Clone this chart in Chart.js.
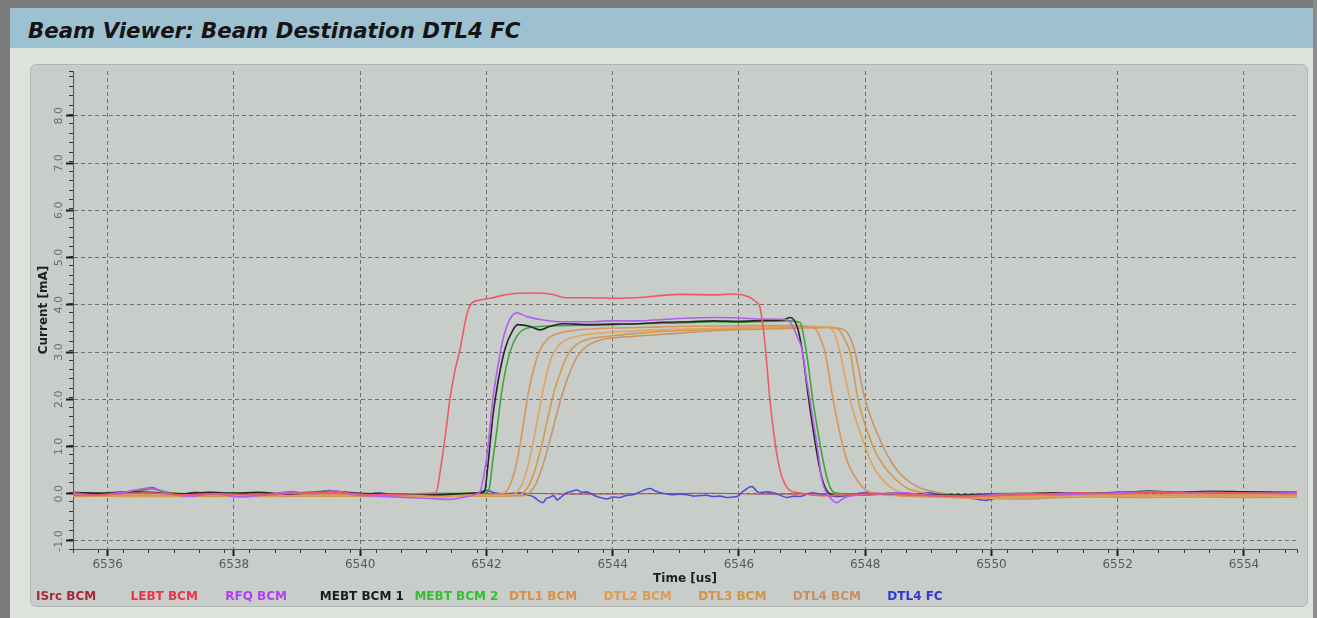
<!DOCTYPE html>
<html>
<head>
<meta charset="utf-8">
<script src="https://cdn.jsdelivr.net/npm/chart.js@4"></script>
<style>
html,body{margin:0;padding:0;}
body{width:1317px;height:618px;overflow:hidden;background:#dfe3dd;position:relative;font-family:"DejaVu Sans",sans-serif;}
#frameL{position:absolute;left:0;top:0;width:10px;height:618px;background:#7c7c7c;}
#frameT{position:absolute;left:0;top:0;width:1317px;height:8px;background:#7c7c7c;}
#frameR{position:absolute;right:0;top:0;width:4px;height:618px;background:#8c8c8c;}
#titlebar{position:absolute;left:10px;top:8px;width:1303px;height:40px;background:#9dc1d1;}
#titlebar span{position:absolute;left:18px;top:0px;font:italic bold 21.3px "DejaVu Sans",sans-serif;line-height:46px;color:#141414;white-space:nowrap;}
#panel{position:absolute;left:30px;top:64px;width:1276px;height:541px;background:#c9cdca;border:1px solid #b3b7b3;border-radius:6px;}
#wrap{position:absolute;left:30px;top:64px;width:1278px;height:530px;}
#legend{position:absolute;left:36px;top:588px;height:16px;display:flex;}
#legend div{width:94.6px;flex:none;font:bold 12px "DejaVu Sans",sans-serif;white-space:nowrap;line-height:16px;}
</style>
</head>
<body>
<div id="frameT"></div><div id="frameL"></div><div id="frameR"></div>
<div id="titlebar"><span>Beam Viewer: Beam Destination DTL4 FC</span></div>
<div id="panel"></div>
<div id="wrap"><canvas id="c" width="1278" height="530"></canvas></div>
<div id="legend"></div>
<script>
// ---- labels / ticks ----
const SERIES_LABELS = ['ISrc BCM','LEBT BCM','RFQ BCM','MEBT BCM 1','MEBT BCM 2','DTL1 BCM','DTL2 BCM','DTL3 BCM','DTL4 BCM','DTL4 FC'];
const X_TICKS = [6536,6538,6540,6542,6544,6546,6548,6550,6552,6554];
const Y_TICKS = [-1,0,1,2,3,4,5,6,7,8];
const X_TITLE = 'Time [us]';
const Y_TITLE = 'Current [mA]';

// ---- series values: [time (us), current (mA)] ----
const ISRC_BCM = [[6535.45,0.0],[6536.5,0.02],[6537.5,-0.01],[6538.5,0.01],[6539.5,0.02],[6540.5,-0.01],[6541.5,0.0],[6542.5,0.01],[6543.5,-0.01],[6544.5,0.0],[6545.5,0.01],[6546.5,-0.01],[6547.5,0.0],[6548.5,0.01],[6549.5,-0.02],[6550.5,0.0],[6551.5,0.01],[6552.5,0.02],[6553.5,0.01],[6554.84,0.0]];

const LEBT_BCM = [[6535.45,-0.03],[6536.0,-0.02],[6536.6,0.02],[6537.2,-0.02],[6537.8,0.0],[6538.4,-0.03],[6539.0,0.01],[6539.6,0.03],[6540.2,-0.02],[6540.8,0.0],[6541.15,0.01],
 [6541.2,0.02],[6541.27,0.5],[6541.35,1.25],[6541.42,2.0],[6541.5,2.6],[6541.58,3.05],[6541.65,3.55],[6541.7,3.85],[6541.78,4.05],[6541.9,4.1],[6542.1,4.15],[6542.25,4.2],[6542.45,4.24],[6542.8,4.25],[6543.05,4.22],[6543.25,4.15],[6543.6,4.15],[6544.1,4.14],[6544.5,4.16],[6544.8,4.2],[6545.1,4.22],[6545.6,4.21],[6545.95,4.23],[6546.15,4.17],[6546.28,4.05],
 [6546.33,3.96],[6546.41,3.2],[6546.49,2.0],[6546.57,1.1],[6546.65,0.5],[6546.73,0.2],[6546.82,0.06],[6546.95,0.02],
 [6547.3,-0.04],[6547.8,-0.02],[6548.4,0.0],[6549.0,-0.04],[6549.6,-0.06],[6550.2,-0.03],[6550.8,-0.01],[6551.4,0.02],[6552.0,0.0],[6552.6,0.03],[6553.2,0.01],[6553.8,0.02],[6554.84,0.0]];

const RFQ_BCM = [[6535.45,0.02],[6535.8,-0.03],[6536.3,0.04],[6536.65,0.12],[6536.9,0.03],[6537.3,-0.05],[6537.7,0.0],[6538.1,-0.07],[6538.5,-0.02],[6538.9,0.03],[6539.3,0.0],[6539.6,0.06],[6539.9,-0.02],[6540.3,-0.05],[6540.7,-0.08],[6541.1,-0.1],[6541.4,-0.12],[6541.7,-0.06],[6541.85,0.0],
 [6541.9,0.05],[6541.96,0.4],[6542.02,0.93],[6542.06,1.45],[6542.1,1.99],[6542.18,2.69],[6542.26,3.26],[6542.37,3.69],[6542.48,3.83],[6542.64,3.75],[6542.85,3.69],[6543.2,3.64],[6543.6,3.64],[6544.0,3.66],[6544.4,3.66],[6544.8,3.69],[6545.2,3.72],[6545.6,3.73],[6546.0,3.72],[6546.4,3.7],[6546.75,3.69],
 [6546.85,3.55],[6546.93,3.3],[6547.0,3.05],[6547.06,2.5],[6547.125,1.99],[6547.18,1.5],[6547.24,1.0],[6547.28,0.6],[6547.32,0.25],[6547.39,0.02],[6547.47,-0.12],[6547.55,-0.19],[6547.65,-0.1],[6547.75,-0.05],
 [6548.1,-0.02],[6548.6,0.02],[6549.0,-0.03],[6549.5,-0.05],[6550.0,-0.02],[6550.5,0.01],[6551.0,-0.02],[6551.5,0.0],[6552.0,0.02],[6552.5,0.04],[6553.0,0.02],[6553.5,0.03],[6554.0,0.01],[6554.84,0.02]];

const MEBT_BCM_1 = [[6535.45,0.03],[6535.9,0.01],[6536.4,0.04],[6536.8,0.02],[6537.2,0.0],[6537.6,0.03],[6538.0,0.01],[6538.4,0.03],[6538.8,-0.01],[6539.2,0.02],[6539.6,0.04],[6540.0,0.01],[6540.4,-0.01],[6540.8,0.0],[6541.2,-0.02],[6541.6,0.0],[6541.9,0.02],
 [6541.97,0.05],[6542.02,0.57],[6542.06,1.1],[6542.1,1.63],[6542.18,2.35],[6542.29,3.05],[6542.42,3.47],[6542.5,3.58],[6542.69,3.54],[6542.85,3.47],[6543.0,3.54],[6543.21,3.6],[6543.6,3.58],[6544.0,3.59],[6544.4,3.6],[6544.8,3.63],[6545.2,3.64],[6545.6,3.66],[6546.0,3.65],[6546.4,3.67],[6546.7,3.68],[6546.81,3.73],
 [6546.92,3.54],[6547.0,3.05],[6547.09,2.14],[6547.2,1.14],[6547.27,0.6],[6547.32,0.3],[6547.41,0.03],[6547.55,-0.04],
 [6548.0,-0.02],[6548.5,0.01],[6549.0,-0.02],[6549.5,-0.03],[6550.0,-0.01],[6550.5,0.0],[6551.0,0.02],[6551.5,0.01],[6552.0,0.03],[6552.5,0.05],[6553.0,0.03],[6553.5,0.05],[6554.0,0.04],[6554.84,0.03]];

const MEBT_BCM_2 = [[6535.45,0.0],[6536.0,0.02],[6536.5,0.06],[6536.7,0.1],[6537.0,0.02],[6537.5,-0.01],[6538.0,0.02],[6538.5,0.0],[6539.0,0.02],[6539.5,0.05],[6540.0,0.0],[6540.5,-0.02],[6541.0,0.0],[6541.5,0.01],[6542.0,0.02],
 [6542.05,0.15],[6542.1,0.7],[6542.16,1.29],[6542.24,2.14],[6542.34,2.84],[6542.45,3.26],[6542.58,3.47],[6542.85,3.54],[6543.2,3.56],[6543.6,3.57],[6544.0,3.58],[6544.4,3.6],[6544.8,3.61],[6545.2,3.62],[6545.6,3.64],[6546.0,3.63],[6546.4,3.65],[6546.8,3.66],[6546.97,3.62],
 [6547.03,3.3],[6547.08,2.9],[6547.17,1.99],[6547.28,1.08],[6547.34,0.65],[6547.39,0.36],[6547.45,0.12],[6547.52,0.02],
 [6548.0,-0.02],[6548.5,0.0],[6549.0,-0.03],[6549.5,-0.02],[6550.0,0.0],[6550.5,0.01],[6551.0,0.0],[6551.5,0.02],[6552.0,0.01],[6552.5,0.03],[6553.0,0.02],[6553.5,0.02],[6554.0,0.03],[6554.84,0.02]];

const DTL1_BCM = [[6535.45,-0.05],[6536.5,-0.03],[6537.5,-0.04],[6538.5,-0.02],[6539.5,-0.01],[6540.5,-0.03],[6541.5,-0.02],[6542.2,-0.01],
 [6542.3,0.03],[6542.38,0.2],[6542.46,0.55],[6542.54,1.1],[6542.61,1.7],[6542.68,2.25],[6542.76,2.7],[6542.85,3.05],[6542.97,3.28],[6543.15,3.4],[6543.4,3.46],[6543.8,3.5],[6544.4,3.52],[6545.0,3.54],[6545.6,3.55],[6546.2,3.56],[6546.8,3.56],[6547.1,3.54],[6547.236,3.45],
 [6547.3,3.25],[6547.363,3.0],[6547.49,2.0],[6547.648,1.0],[6547.74,0.6],[6547.838,0.36],[6547.95,0.15],[6548.076,0.03],
 [6548.5,-0.04],[6549.0,-0.07],[6549.5,-0.08],[6550.0,-0.06],[6550.6,-0.04],[6551.2,-0.03],[6552.0,-0.02],[6553.0,-0.03],[6554.0,-0.02],[6554.84,-0.03]];

const DTL2_BCM = [[6535.45,-0.03],[6536.5,-0.05],[6537.5,-0.03],[6538.5,-0.04],[6539.5,-0.02],[6540.5,-0.03],[6541.5,-0.04],[6542.4,-0.02],
 [6542.48,0.03],[6542.57,0.22],[6542.66,0.6],[6542.75,1.15],[6542.84,1.8],[6542.93,2.4],[6543.02,2.85],[6543.12,3.1],[6543.25,3.25],[6543.5,3.35],[6543.8,3.4],[6544.4,3.45],[6545.0,3.48],[6545.6,3.5],[6546.2,3.52],[6546.8,3.54],[6547.3,3.54],[6547.49,3.45],
 [6547.55,3.25],[6547.6,3.0],[6547.759,2.0],[6547.997,1.0],[6548.1,0.65],[6548.234,0.36],[6548.4,0.14],[6548.551,0.03],
 [6549.0,-0.05],[6549.5,-0.08],[6550.0,-0.09],[6550.5,-0.07],[6551.0,-0.05],[6551.8,-0.04],[6552.6,-0.05],[6553.4,-0.04],[6554.84,-0.05]];

const DTL3_BCM = [[6535.45,-0.06],[6536.5,-0.04],[6537.5,-0.06],[6538.5,-0.03],[6539.5,-0.05],[6540.5,-0.04],[6541.5,-0.05],[6542.5,-0.03],
 [6542.58,0.02],[6542.68,0.2],[6542.78,0.55],[6542.88,1.05],[6542.98,1.65],[6543.08,2.2],[6543.18,2.6],[6543.29,2.95],[6543.42,3.15],[6543.6,3.27],[6543.9,3.33],[6544.43,3.4],[6545.0,3.45],[6545.6,3.48],[6546.2,3.5],[6546.8,3.52],[6547.4,3.53],[6547.6,3.45],
 [6547.68,3.25],[6547.759,3.0],[6547.886,2.0],[6548.124,1.0],[6548.28,0.62],[6548.44,0.36],[6548.65,0.13],[6548.868,0.03],
 [6549.2,-0.05],[6549.7,-0.09],[6550.2,-0.1],[6550.7,-0.08],[6551.2,-0.06],[6552.0,-0.05],[6552.8,-0.06],[6553.6,-0.05],[6554.84,-0.06]];

const DTL4_BCM = [[6535.45,-0.04],[6536.5,-0.06],[6537.5,-0.05],[6538.5,-0.06],[6539.5,-0.04],[6540.5,-0.06],[6541.5,-0.05],[6542.6,-0.04],
 [6542.68,0.02],[6542.78,0.2],[6542.88,0.55],[6542.99,1.05],[6543.1,1.62],[6543.21,2.15],[6543.33,2.6],[6543.46,2.95],[6543.62,3.15],[6543.85,3.27],[6544.3,3.33],[6545.06,3.4],[6545.6,3.45],[6546.2,3.48],[6546.8,3.5],[6547.4,3.52],[6547.6,3.5],[6547.711,3.42],
 [6547.78,3.25],[6547.838,3.0],[6547.997,2.0],[6548.282,1.0],[6548.44,0.62],[6548.6,0.36],[6548.85,0.13],[6549.185,0.02],
 [6549.6,-0.06],[6550.1,-0.1],[6550.6,-0.11],[6551.1,-0.08],[6551.6,-0.07],[6552.4,-0.08],[6553.2,-0.07],[6554.0,-0.08],[6554.84,-0.07]];

const DTL4_FC = [[6535.45,-0.02],[6535.7,0.02],[6536.0,-0.03],[6536.3,0.03],[6536.55,0.08],[6536.7,0.13],[6536.85,0.05],[6537.1,-0.02],[6537.4,0.03],[6537.7,-0.04],[6538.0,0.02],[6538.3,-0.05],[6538.6,-0.02],[6538.9,0.04],[6539.2,0.0],[6539.5,0.07],[6539.75,0.02],[6540.0,-0.03],[6540.3,0.02],[6540.6,-0.05],[6540.9,-0.03],[6541.2,-0.06],[6541.5,-0.05],[6541.8,-0.02],
 [6542.0,0.08],[6542.1,0.03],[6542.2,0.0],[6542.32,-0.02],[6542.42,0.01],[6542.53,0.02],[6542.63,-0.02],[6542.74,-0.06],[6542.82,-0.14],[6542.89,-0.19],[6542.95,-0.1],[6543.0,-0.08],[6543.06,-0.04],[6543.12,-0.13],[6543.2,-0.05],[6543.27,0.02],[6543.35,0.05],[6543.43,0.08],[6543.51,0.03],[6543.59,0.04],[6543.67,-0.01],[6543.75,-0.06],[6543.83,-0.09],[6543.91,-0.11],[6544.0,-0.07],[6544.11,-0.08],[6544.2,-0.04],[6544.32,-0.02],[6544.45,0.05],[6544.52,0.09],[6544.59,0.11],[6544.67,0.06],[6544.75,0.02],[6544.85,0.0],[6544.95,-0.02],[6545.07,-0.01],[6545.18,-0.02],[6545.28,-0.05],[6545.38,-0.04],[6545.48,-0.03],[6545.59,-0.06],[6545.7,-0.05],[6545.81,-0.08],[6545.9,-0.07],[6545.97,-0.06],[6546.04,0.02],[6546.1,0.08],[6546.16,0.14],[6546.21,0.15],[6546.27,0.07],[6546.33,0.02],[6546.44,0.04],[6546.54,0.02],[6546.65,-0.03],[6546.76,-0.08],[6546.87,-0.05],[6546.97,-0.06],[6547.07,-0.01],[6547.17,0.02],[6547.25,0.0],[6547.33,-0.02],[6547.45,-0.04],[6547.55,-0.06],[6547.65,-0.04],[6547.76,-0.02],[6547.86,0.0],[6547.96,0.02],[6548.1,0.01],
 [6548.3,0.0],[6548.7,-0.03],[6549.0,0.02],[6549.4,-0.05],[6549.7,-0.1],[6549.9,-0.14],[6550.2,-0.05],[6550.5,-0.02],[6550.9,-0.04],[6551.3,0.0],[6551.7,-0.02],[6552.1,0.02],[6552.5,0.05],[6552.9,0.02],[6553.3,0.04],[6553.7,0.02],[6554.1,0.03],[6554.5,0.01],[6554.84,0.02]];

const SERIES_DATA = [ISRC_BCM, LEBT_BCM, RFQ_BCM, MEBT_BCM_1, MEBT_BCM_2, DTL1_BCM, DTL2_BCM, DTL3_BCM, DTL4_BCM, DTL4_FC];

// ---- styles ----
const LINE_COLORS = ['#a8505a','#ec5a6a','#b35ef0','#262626','#3aa83a','#d8955a','#e0a45c','#d49a48','#c89468','#5050d0'];
const TEXT_COLORS = ['#a8283a','#f0304a','#b040f0','#1c1c1c','#30c030','#d89048','#dc9c50','#d49440','#c89060','#3434d8'];

const X_MIN = 6535.45, X_MAX = 6554.84, Y_MIN = -1.17, Y_MAX = 8.95;
const GRID_COLOR = '#6e706e';
const FONT = '"DejaVu Sans", sans-serif';

const datasets = SERIES_LABELS.map((lbl, i) => ({
  label: lbl,
  data: SERIES_DATA[i],
  borderColor: LINE_COLORS[i],
  legendColor: TEXT_COLORS[i],
  borderWidth: i === 0 ? 1.2 : 1.6,
  pointRadius: 0,
  fill: false,
  cubicInterpolationMode: 'monotone',
  order: i === 0 ? 1 : 0
}));

const chart = new Chart(document.getElementById('c'), {
  type: 'line',
  data: { datasets },
  options: {
    responsive: false,
    animation: false,
    layout: { padding: { left: 0, right: 11, top: 7, bottom: 7 } },
    plugins: { legend: { display: false }, tooltip: { enabled: false } },
    scales: {
      x: {
        type: 'linear', position: 'bottom', weight: 1,
        min: X_MIN, max: X_MAX, bounds: 'data',
        afterBuildTicks: s => { s.ticks = X_TICKS.map(v => ({ value: v })); },
        afterFit: s => { s.height = 38; },
        ticks: { autoSkip: false, maxRotation: 0, padding: 2, color: '#5a5a5a',
                 font: { family: FONT, size: 12 }, callback: v => String(v) },
        grid: { color: GRID_COLOR, lineWidth: 1, tickLength: 7, tickWidth: 2, tickColor: '#1e1e1e' },
        border: { display: true, color: '#555', width: 1, dash: [4, 3] },
        title: { display: true, text: X_TITLE, color: '#1e1e1e', padding: { top: 0, bottom: 1 },
                 font: { family: FONT, size: 12, weight: 'bold' } }
      },
      xMinor: {
        type: 'linear', axis: 'x', position: 'bottom', weight: 0,
        min: X_MIN, max: X_MAX, bounds: 'data',
        afterFit: s => { s.height = 0; },
        ticks: { display: false, stepSize: 0.4, includeBounds: false, autoSkip: false },
        grid: { drawOnChartArea: false, tickLength: 4, tickWidth: 1, tickColor: '#333' },
        border: { display: false }
      },
      y: {
        type: 'linear', position: 'left', weight: 1,
        min: Y_MIN, max: Y_MAX, bounds: 'data',
        afterBuildTicks: s => { s.ticks = Y_TICKS.map(v => ({ value: v })); },
        afterFit: s => { s.width = 43; },
        ticks: { autoSkip: false, minRotation: 90, maxRotation: 90, crossAlign: 'center', padding: -4,
                 color: '#6a6a6a', font: { family: FONT, size: 11 }, callback: v => v.toFixed(1) },
        grid: { color: GRID_COLOR, lineWidth: 1, tickLength: 7, tickWidth: 2, tickColor: '#1e1e1e' },
        border: { display: true, color: '#555', width: 1, dash: [4, 3] },
        title: { display: true, text: Y_TITLE, color: '#1e1e1e', padding: { top: 7, bottom: 0 },
                 font: { family: FONT, size: 12, weight: 'bold' } }
      },
      yMinor: {
        type: 'linear', axis: 'y', position: 'left', weight: 0,
        min: Y_MIN, max: Y_MAX, bounds: 'data',
        afterFit: s => { s.width = 0; },
        ticks: { display: false, stepSize: 0.2, includeBounds: false, autoSkip: false },
        grid: { drawOnChartArea: false, tickLength: 4, tickWidth: 1, tickColor: '#333' },
        border: { display: false }
      }
    }
  }
});

// HTML legend built from the chart's datasets
const legendEl = document.getElementById('legend');
chart.data.datasets.forEach(ds => {
  const d = document.createElement('div');
  d.textContent = ds.label;
  d.style.color = ds.legendColor;
  legendEl.appendChild(d);
});
</script>
</body>
</html>
